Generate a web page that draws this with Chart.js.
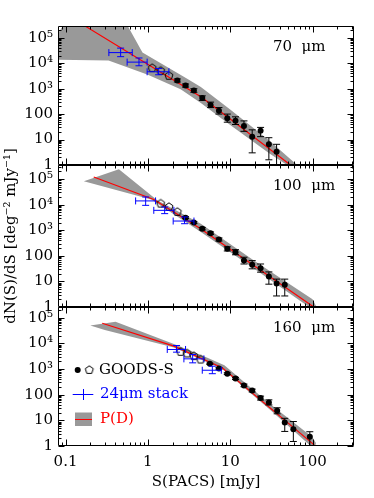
<!DOCTYPE html>
<html>
<head>
<meta charset="utf-8">
<script src="https://cdn.jsdelivr.net/npm/chart.js@4.4.0/dist/chart.umd.min.js"></script>
<style>
  body { margin: 0; background: #fff; }
  #wrap { position: relative; width: 374px; height: 498px; }
  canvas { position: absolute; left: 0; top: 0; }
</style>
</head>
<body>
<div id="wrap">
  <canvas id="c70" width="374" height="498"></canvas>
  <canvas id="c100" width="374" height="498"></canvas>
  <canvas id="c160" width="374" height="498"></canvas>
</div>
<script>
// ---- 70 um ----
const s70 = [2.28, 2.87, 3.62, 4.58, 5.78, 7.3, 9.22, 11.6, 14.7, 18.5, 23.4, 29.5, 36.6];
const n70 = [2090, 1320, 845, 424, 230, 134, 69, 55, 34, 13, 22, 6.5, 3.3];
const lo70 = [1820, 1150, 720, 345, 180, 100, 48, 39, 21, 3.0, 13, 1.6, 0.5];
const hi70 = [2400, 1520, 990, 520, 295, 180, 100, 78, 54, 24, 30, 11.8, 6.5];
const sOpen70 = [1.13, 1.43, 1.80];
const nOpen70 = [6400, 5000, 3200];
const sStack70 = [0.467, 0.78, 1.35];
const sStackLo70 = [0.336, 0.56, 0.98];
const sStackHi70 = [0.646, 0.98, 1.8];
const nStack70 = [2.6e4, 1.1e4, 4600];
const nStackLo70 = [1.8e4, 7900, 3500];
const nStackHi70 = [3.9e4, 1.6e4, 6200];
const sFit70 = [0.175, 4.5, 54, 75];
const nFit70 = [2.8e5, 460, 1, 0.45];
const sUp70 = [0.081, 0.095, 0.56, 0.86, 2.9, 4.4, 10, 30, 65, 80];
const nUp70 = [1.5e5, 3.2e5, 3.2e5, 2.6e4, 2600, 1150, 150, 9, 1, 0.5];
const sDn70 = [0.081, 0.333, 1.0, 2.5, 4.4, 10, 30, 49, 60];
const nDn70 = [1.35e4, 1.27e4, 3500, 950, 270, 37, 2.8, 1, 0.5];

// ---- 100 um ----
const s100 = [2.87, 3.62, 4.58, 5.78, 7.3, 9.22, 11.6, 14.7, 18.5, 23.4, 29.5, 36.6, 46];
const n100 = [3100, 2000, 1150, 770, 435, 187, 138, 65, 45, 33, 15.5, 8.3, 7.4];
const lo100 = [2850, 1830, 1030, 690, 380, 155, 110, 48, 31, 23, 7.8, 2.7, 2.7];
const hi100 = [3400, 2200, 1290, 860, 500, 225, 174, 88, 65, 48, 23.5, 12.3, 12.3];
const sOpen100 = [1.43, 1.80, 2.28];
const nOpen100 = [1.1e4, 8100, 5200];
const sStack100 = [0.94, 1.6, 2.79];
const sStackLo100 = [0.71, 1.18, 2.03];
const sStackHi100 = [1.24, 2.07, 3.63];
const nStack100 = [1.4e4, 6000, 2290];
const nStackLo100 = [9400, 4460, 1800];
const nStackHi100 = [2.0e4, 8100, 3300];
const sFit100 = [0.22, 1.18, 4.37, 99.5, 130];
const nFit100 = [1.2e5, 1.6e4, 1150, 1.1, 0.6];
const sUp100 = [0.167, 0.445, 1.3, 4.4, 20, 100, 112];
const nUp100 = [8.3e4, 2.4e5, 1.5e4, 1800, 62, 2, 1];
const sDn100 = [0.167, 1.1, 4.4, 20, 100, 105];
const nDn100 = [8.3e4, 1.6e4, 850, 30, 0.8, 0.6];

// ---- 160 um ----
const s160 = [5.66, 7.3, 9.22, 11.6, 14.7, 18.5, 23.4, 29.5, 37.2, 46, 58.5, 92.7];
const n160 = [1600, 1050, 660, 430, 230, 145, 74, 50, 23.6, 8.2, 4.5, 2.3];
const lo160 = [1500, 980, 610, 390, 205, 128, 62, 40, 18, 3.7, 1.5, 1.0];
const hi160 = [1700, 1130, 715, 475, 260, 165, 88, 63, 31, 12, 9, 3.6];
const sOpen160 = [2.5, 3.0, 3.62, 4.37];
const nOpen160 = [4700, 4050, 3200, 2350];
const sStack160 = [2.23, 3.5, 6.07];
const sStackLo160 = [1.72, 2.74, 4.58];
const sStackHi160 = [2.87, 4.79, 7.8];
const nStack160 = [5800, 2500, 900];
const nStackLo160 = [4560, 1750, 660];
const nStackHi160 = [8300, 3700, 1290];
const sFit160 = [0.279, 2.07, 8.0, 99.5, 120];
const nFit160 = [6.1e4, 7800, 1120, 1.27, 0.7];
const sUp160 = [0.2, 0.405, 2.07, 5.2, 8.5, 30, 100, 110];
const nUp160 = [5e4, 7e4, 9500, 2800, 1400, 45, 2.2, 1.3];
const sDn160 = [0.2, 0.3, 2.07, 8, 30, 95, 105];
const nDn160 = [5e4, 3.3e4, 7000, 1000, 27, 1, 0.6];

const xMin = 0.081, xMax = 319;
const xTickLabels = [0.1, 1, 10, 100];
const FONT = '"DejaVu Serif", serif';
const SUP = { '0': '⁰', '1': '¹', '2': '²', '3': '³', '4': '⁴', '5': '⁵' };

function pts(xs, ys) {
  return xs.map((v, i) => ({ x: v, y: ys[i] }));
}

function pentagon(r) {
  const c = document.createElement('canvas');
  const s = Math.ceil(2 * r + 3);
  c.width = c.height = s;
  const g = c.getContext('2d');
  g.beginPath();
  for (let i = 0; i < 5; i++) {
    const a = -Math.PI / 2 + i * 2 * Math.PI / 5;
    g.lineTo(s / 2 + r * Math.cos(a), s / 2 + r * Math.sin(a));
  }
  g.closePath();
  g.lineWidth = 1;
  g.strokeStyle = '#000';
  g.stroke();
  return c;
}
const pentaImg = pentagon(4.2);

function isDecade(v) {
  const l = Math.log10(v);
  return Math.abs(l - Math.round(l)) < 1e-6;
}

// error bars drawn through the chart scales
const errorBars = {
  id: 'errorBars',
  afterDatasetDraw(chart, args) {
    const ds = chart.data.datasets[args.index];
    if (!ds.errY) return;
    const { ctx, chartArea: a, scales: { x, y } } = chart;
    ctx.save();
    ctx.beginPath();
    ctx.rect(a.left, a.top, a.width, a.height);
    ctx.clip();
    ctx.strokeStyle = ds.barColor;
    ctx.lineWidth = 1;
    ctx.beginPath();
    ds.data.forEach((p, i) => {
      const px = x.getPixelForValue(p.x), py = y.getPixelForValue(p.y);
      const y0 = y.getPixelForValue(ds.errY[i][0]);
      const y1 = y.getPixelForValue(ds.errY[i][1]);
      const c = ds.cap;
      ctx.moveTo(px, y0); ctx.lineTo(px, y1);
      ctx.moveTo(px - c, y0); ctx.lineTo(px + c, y0);
      ctx.moveTo(px - c, y1); ctx.lineTo(px + c, y1);
      if (ds.errX) {
        const x0 = x.getPixelForValue(ds.errX[i][0]);
        const x1 = x.getPixelForValue(ds.errX[i][1]);
        ctx.moveTo(x0, py); ctx.lineTo(x1, py);
        ctx.moveTo(x0, py - c); ctx.lineTo(x0, py + c);
        ctx.moveTo(x1, py - c); ctx.lineTo(x1, py + c);
      }
    });
    ctx.stroke();
    ctx.restore();
  }
};

// box with inward ticks on all four sides + panel label
const frame = {
  id: 'frame',
  afterDatasetsDraw(chart) {
    const { ctx, chartArea: a, scales: { x, y } } = chart;
    const L = Math.round(a.left) + 0.5, R = Math.round(a.right) - 0.5;
    const T = Math.round(a.top) + 0.5, B = Math.round(a.bottom) - 0.5;
    ctx.save();
    ctx.strokeStyle = '#000';
    ctx.lineWidth = 1;
    ctx.beginPath();
    for (let e = -2; e <= 3; e++) {
      for (let m = 1; m < 10; m++) {
        const v = m * Math.pow(10, e);
        if (v >= x.min && v <= x.max) {
          const px = Math.round(x.getPixelForValue(v)) + 0.5;
          const len = m === 1 ? 6 : 3;
          ctx.moveTo(px, B); ctx.lineTo(px, B - len);
          ctx.moveTo(px, T); ctx.lineTo(px, T + len);
        }
      }
    }
    for (let e = 0; e <= 6; e++) {
      for (let m = 1; m < 10; m++) {
        const v = m * Math.pow(10, e);
        if (v >= y.min && v <= y.max) {
          const py = Math.round(y.getPixelForValue(v)) + 0.5;
          const len = m === 1 ? 6 : 3;
          ctx.moveTo(L, py); ctx.lineTo(L + len, py);
          ctx.moveTo(R, py); ctx.lineTo(R - len, py);
        }
      }
    }
    ctx.rect(L, T, R - L, B - T);
    ctx.stroke();

    ctx.fillStyle = '#000';
    ctx.font = '15px ' + FONT;
    ctx.textBaseline = 'middle';
    ctx.textAlign = 'left';
    ctx.fillText(chart.options.plugins.frame.label, 273, a.top + 21);
    ctx.restore();
  }
};

// legend and y title on the bottom panel
const legendAndTitle = {
  id: 'legendAndTitle',
  afterDraw(chart) {
    const { ctx } = chart;
    ctx.save();
    ctx.font = '15px ' + FONT;
    ctx.textBaseline = 'middle';
    ctx.textAlign = 'left';

    ctx.fillStyle = '#000';
    ctx.beginPath();
    ctx.arc(77.7, 370, 3, 0, Math.PI * 2);
    ctx.fill();
    ctx.drawImage(pentaImg, 89.3 - pentaImg.width / 2, 370 - pentaImg.height / 2);
    ctx.fillText('GOODS-S', 99, 370);

    ctx.strokeStyle = 'blue';
    ctx.lineWidth = 1;
    ctx.beginPath();
    ctx.moveTo(72.7, 394.5); ctx.lineTo(93.3, 394.5);
    ctx.moveTo(83.5, 389); ctx.lineTo(83.5, 400);
    ctx.stroke();
    ctx.fillStyle = 'blue';
    ctx.fillText('24μm stack', 100, 394);

    ctx.fillStyle = '#999';
    ctx.fillRect(75, 412.5, 17, 13.5);
    ctx.strokeStyle = 'red';
    ctx.beginPath();
    ctx.moveTo(75, 419.5); ctx.lineTo(92, 419.5);
    ctx.stroke();
    ctx.fillStyle = 'red';
    ctx.fillText('P(D)', 100, 419);

    ctx.fillStyle = '#000';
    ctx.translate(11, 236);
    ctx.rotate(-Math.PI / 2);
    ctx.textAlign = 'center';
    ctx.fillText('dN(S)/dS [deg⁻² mJy⁻¹]', 0, 0);
    ctx.restore();
  }
};

function makePanel(id, p) {
  const band = pts(p.sUp, p.nUp).concat(pts(p.sDn, p.nDn).reverse());
  const datasets = [
    { data: band, fill: 'shape', backgroundColor: '#999', borderWidth: 0, pointRadius: 0, order: 5 },
    { data: pts(p.sFit, p.nFit), borderColor: 'red', borderWidth: 1.2, pointRadius: 0, fill: false, order: 4 },
    { data: pts(p.s, p.n), showLine: false, pointRadius: 3, pointBackgroundColor: '#000', pointBorderWidth: 0,
      errY: p.lo.map((v, i) => [v, p.hi[i]]), barColor: '#000', cap: 3.5, order: 3 },
    { data: pts(p.sOpen, p.nOpen), showLine: false, pointStyle: pentaImg, pointRadius: 4, order: 2 },
    { data: pts(p.sStack, p.nStack), showLine: false, pointRadius: 0,
      errY: p.nStackLo.map((v, i) => [v, p.nStackHi[i]]),
      errX: p.sStackLo.map((v, i) => [v, p.sStackHi[i]]), barColor: 'blue', cap: 3.5, order: 1 }
  ];
  return new Chart(document.getElementById(id), {
    type: 'line',
    data: { datasets },
    options: {
      responsive: false,
      animation: false,
      layout: { padding: { top: p.top, bottom: p.bottom, left: 0, right: 20 } },
      elements: { line: { tension: 0 } },
      plugins: { legend: { display: false }, tooltip: { enabled: false }, frame: { label: p.label } },
      scales: {
        x: {
          type: 'logarithmic', min: xMin, max: xMax, display: p.showX,
          grid: { display: false, drawTicks: false }, border: { display: false },
          ticks: {
            autoSkip: false, maxRotation: 0, padding: 7, color: '#000', font: { family: FONT, size: 15 },
            callback: v => (xTickLabels.some(t => Math.abs(t - v) < 1e-9) ? String(v) : '')
          },
          title: { display: true, text: 'S(PACS) [mJy]', color: '#000', font: { family: FONT, size: 15 }, padding: { top: 0, bottom: 7 } },
          afterFit: s => { s.height = p.showX ? 52 : 0; }
        },
        y: {
          type: 'logarithmic', min: 1, max: p.yMax,
          grid: { display: false, drawTicks: false }, border: { display: false },
          ticks: {
            autoSkip: false, padding: 5, color: '#000', font: { family: FONT, size: 15 },
            callback: v => {
              if (!isDecade(v)) return '';
              const e = Math.round(Math.log10(v));
              return e < 3 ? String(Math.round(v)) : '10' + SUP[e];
            }
          },
          afterFit: s => { s.width = 58; }
        }
      }
    },
    plugins: p.extra ? [errorBars, frame, p.extra] : [errorBars, frame]
  });
}

makePanel('c70', {
  label: '70  μm', top: 26, bottom: 333, showX: false, yMax: Math.pow(10, 5.46),
  s: s70, n: n70, lo: lo70, hi: hi70, sOpen: sOpen70, nOpen: nOpen70,
  sStack: sStack70, sStackLo: sStackLo70, sStackHi: sStackHi70,
  nStack: nStack70, nStackLo: nStackLo70, nStackHi: nStackHi70,
  sFit: sFit70, nFit: nFit70, sUp: sUp70, nUp: nUp70, sDn: sDn70, nDn: nDn70
});
makePanel('c100', {
  label: '100  μm', top: 165, bottom: 191, showX: false, yMax: Math.pow(10, 5.55),
  s: s100, n: n100, lo: lo100, hi: hi100, sOpen: sOpen100, nOpen: nOpen100,
  sStack: sStack100, sStackLo: sStackLo100, sStackHi: sStackHi100,
  nStack: nStack100, nStackLo: nStackLo100, nStackHi: nStackHi100,
  sFit: sFit100, nFit: nFit100, sUp: sUp100, nUp: nUp100, sDn: sDn100, nDn: nDn100
});
makePanel('c160', {
  label: '160  μm', top: 307, bottom: 0, showX: true, yMax: Math.pow(10, 5.42), extra: legendAndTitle,
  s: s160, n: n160, lo: lo160, hi: hi160, sOpen: sOpen160, nOpen: nOpen160,
  sStack: sStack160, sStackLo: sStackLo160, sStackHi: sStackHi160,
  nStack: nStack160, nStackLo: nStackLo160, nStackHi: nStackHi160,
  sFit: sFit160, nFit: nFit160, sUp: sUp160, nUp: nUp160, sDn: sDn160, nDn: nDn160
});
</script>
</body>
</html>
